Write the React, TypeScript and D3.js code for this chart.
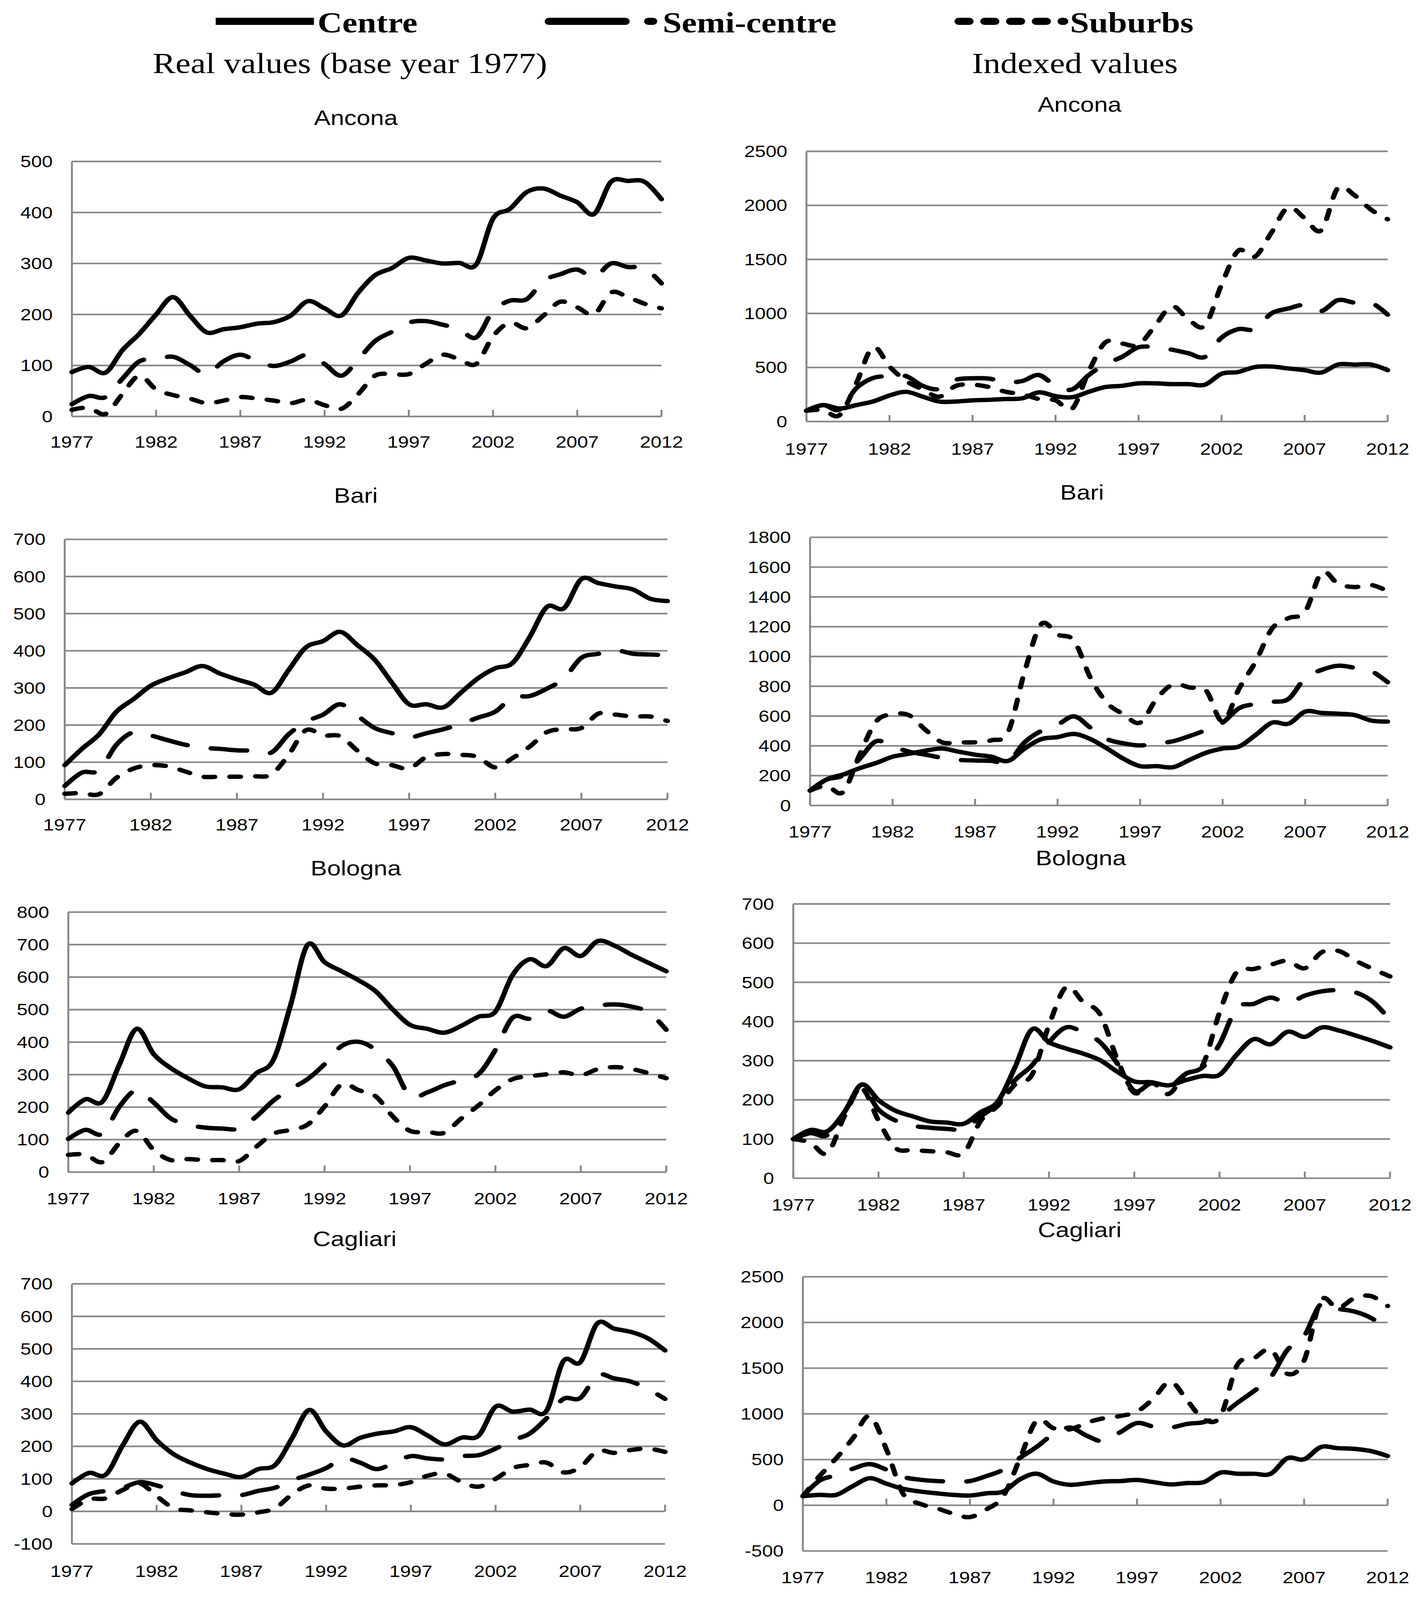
import React from 'react';
import * as d3 from 'd3';

// categories
const years = [
  1977, 1978, 1979, 1980, 1981, 1982, 1983, 1984, 1985, 1986, 1987, 1988, 1989, 1990, 1991, 1992, 1993, 1994,
  1995, 1996, 1997, 1998, 1999, 2000, 2001, 2002, 2003, 2004, 2005, 2006, 2007, 2008, 2009, 2010, 2011, 2012,
];
const xTickYears = [1977, 1982, 1987, 1992, 1997, 2002, 2007, 2012];
const seriesNames = ['Centre', 'Semi-centre', 'Suburbs'];

// Ancona
const anconaRealCentre = [87, 97, 86, 130, 162, 200, 234, 198, 165, 171, 175, 182, 185, 198, 226, 212, 198, 243, 277, 291, 311, 306, 300, 301, 298, 388, 407, 440, 447, 433, 420, 397, 460, 462, 460, 426];
const anconaRealSemi = [24, 40, 38, 74, 108, 112, 117, 101, 83, 108, 121, 108, 99, 108, 121, 103, 80, 112, 148, 166, 184, 187, 180, 171, 155, 207, 227, 230, 266, 279, 288, 273, 300, 293, 291, 261];
const anconaRealSuburbs = [13, 17, 5, 44, 80, 53, 42, 35, 26, 31, 38, 35, 31, 26, 33, 22, 15, 44, 80, 83, 83, 103, 121, 112, 103, 157, 184, 173, 198, 225, 214, 200, 243, 234, 221, 212];
const anconaIdxCentre = [100, 152, 120, 152, 185, 241, 275, 230, 185, 185, 196, 201, 208, 215, 270, 235, 225, 275, 319, 330, 353, 353, 346, 346, 341, 442, 458, 504, 509, 491, 475, 453, 527, 527, 527, 475];
const anconaIdxSemi = [100, 152, 110, 308, 402, 420, 420, 330, 300, 386, 400, 397, 364, 375, 430, 330, 297, 430, 531, 598, 687, 687, 665, 632, 598, 777, 855, 855, 1000, 1045, 1078, 1022, 1123, 1100, 1100, 989];
const anconaIdxSuburbs = [100, 107, 60, 353, 687, 509, 375, 297, 230, 330, 341, 319, 275, 252, 208, 196, 118, 464, 732, 721, 710, 888, 1067, 944, 888, 1268, 1580, 1525, 1748, 1982, 1882, 1770, 2161, 2094, 1960, 1871];

// Bari
const bariRealCentre = [92, 136, 175, 236, 270, 306, 326, 342, 359, 339, 323, 309, 287, 348, 409, 426, 451, 415, 376, 314, 256, 256, 248, 287, 326, 353, 367, 437, 518, 515, 593, 582, 573, 565, 540, 534];
const bariRealSemi = [36, 72, 78, 147, 181, 172, 159, 147, 139, 136, 132, 131, 126, 175, 209, 228, 256, 225, 192, 178, 167, 178, 189, 203, 220, 236, 275, 278, 298, 326, 381, 392, 401, 392, 390, 388];
const bariRealSuburbs = [15, 17, 14, 58, 83, 92, 89, 75, 61, 61, 61, 62, 67, 120, 186, 172, 170, 131, 97, 92, 83, 114, 122, 120, 114, 86, 111, 142, 181, 189, 192, 231, 228, 223, 223, 211];
const bariIdxCentre = [100, 174, 208, 250, 285, 327, 347, 368, 382, 361, 341, 327, 299, 382, 445, 459, 480, 445, 382, 313, 264, 264, 257, 306, 354, 382, 396, 473, 556, 549, 630, 621, 616, 607, 570, 563];
const bariIdxSemi = [100, 174, 202, 313, 431, 396, 361, 341, 320, 306, 302, 299, 292, 424, 500, 542, 598, 521, 445, 417, 403, 417, 431, 466, 507, 556, 653, 681, 695, 716, 855, 910, 938, 924, 903, 827];
const bariIdxSuburbs = [100, 132, 90, 340, 563, 612, 605, 507, 424, 424, 424, 438, 493, 897, 1216, 1147, 1105, 855, 688, 612, 556, 716, 813, 792, 771, 563, 785, 966, 1188, 1258, 1300, 1564, 1487, 1466, 1480, 1439];

// Bologna
const bolognaRealCentre = [183, 224, 217, 332, 441, 363, 320, 289, 264, 261, 255, 304, 345, 512, 699, 646, 618, 590, 556, 500, 453, 441, 429, 450, 478, 494, 606, 655, 634, 689, 665, 711, 696, 668, 643, 618];
const bolognaRealSemi = [102, 130, 118, 202, 252, 214, 165, 146, 137, 134, 134, 171, 220, 255, 286, 332, 388, 401, 376, 326, 233, 245, 267, 283, 301, 376, 475, 472, 497, 478, 503, 512, 516, 509, 491, 438];
const bolognaRealSuburbs = [53, 54, 31, 90, 127, 68, 37, 40, 37, 37, 34, 78, 118, 130, 146, 202, 270, 252, 233, 171, 127, 124, 121, 165, 205, 252, 286, 295, 301, 307, 298, 317, 323, 317, 304, 289];
const bolognaIdxCentre = [100, 123, 120, 169, 239, 199, 172, 158, 145, 142, 139, 169, 196, 283, 380, 347, 331, 318, 301, 272, 247, 245, 237, 250, 261, 264, 315, 355, 342, 374, 361, 385, 377, 364, 350, 334];
const bolognaIdxSemi = [100, 115, 110, 169, 231, 175, 147, 134, 129, 126, 126, 158, 191, 250, 288, 347, 385, 372, 347, 293, 223, 242, 231, 266, 283, 342, 434, 445, 461, 447, 466, 477, 480, 474, 450, 404];
const bolognaIdxSuburbs = [100, 91, 64, 158, 229, 147, 77, 72, 69, 66, 64, 147, 185, 239, 264, 391, 488, 450, 418, 304, 218, 245, 215, 266, 288, 423, 526, 534, 545, 555, 536, 577, 580, 555, 534, 515];

// Cagliari
const cagliariRealCentre = [86, 118, 113, 203, 276, 219, 176, 150, 130, 116, 106, 130, 143, 226, 312, 246, 203, 226, 239, 246, 259, 233, 206, 227, 233, 322, 307, 313, 309, 462, 459, 578, 562, 552, 532, 495];
const cagliariRealSemi = [20, 53, 63, 73, 90, 80, 63, 50, 48, 50, 50, 63, 73, 96, 113, 133, 163, 150, 130, 150, 170, 163, 160, 170, 173, 193, 219, 239, 286, 346, 349, 419, 409, 399, 376, 346];
const cagliariRealSuburbs = [7, 37, 40, 66, 86, 47, 10, 3, -3, -8, -10, -3, 10, 53, 80, 70, 70, 76, 80, 81, 90, 110, 116, 90, 76, 100, 133, 143, 150, 120, 136, 186, 180, 189, 193, 183];
const cagliariIdxCentre = [100, 114, 114, 211, 296, 236, 180, 151, 131, 114, 107, 131, 151, 284, 345, 260, 224, 241, 260, 265, 277, 253, 228, 243, 253, 357, 345, 345, 345, 515, 503, 637, 625, 617, 593, 539];
const cagliariIdxSemi = [100, 270, 330, 400, 450, 390, 310, 280, 265, 260, 265, 320, 390, 520, 640, 780, 850, 760, 700, 800, 900, 860, 850, 890, 910, 980, 1120, 1250, 1400, 1700, 1850, 2200, 2150, 2120, 2050, 1920];
const cagliariIdxSuburbs = [100, 320, 515, 734, 977, 612, 126, 17, -32, -92, -129, -44, 102, 515, 928, 843, 831, 904, 952, 977, 1025, 1171, 1353, 1147, 940, 977, 1535, 1608, 1705, 1438, 1584, 2240, 2155, 2265, 2289, 2180];

// y tick labels
const ticks500 = [0, 100, 200, 300, 400, 500];
const ticks700 = [0, 100, 200, 300, 400, 500, 600, 700];
const ticks800 = [0, 100, 200, 300, 400, 500, 600, 700, 800];
const ticksNeg700 = [-100, 0, 100, 200, 300, 400, 500, 600, 700];
const ticks2500 = [0, 500, 1000, 1500, 2000, 2500];
const ticks1800 = [0, 200, 400, 600, 800, 1000, 1200, 1400, 1600, 1800];
const ticksNeg2500 = [-500, 0, 500, 1000, 1500, 2000, 2500];

// drawing space matches the reference picture's proportions; it is stretched to fill the window
const W = 1190;
const H = (W * 4833) / 3651;
const GRID = '#878787';
const FONT = '"Liberation Sans", Arial, sans-serif';
const SERIF = '"Liberation Serif", "Times New Roman", serif';
const LINE_W = 4.3;
const DASHES = [null, '30 20', '9 12.5'];

const panels = [
  { title: 'Ancona', tx: 297, ty: 123, left: 60, right: 552, top: 159, bottom: 410, labelY: 435, ticks: ticks500, series: [anconaRealCentre, anconaRealSemi, anconaRealSuburbs] },
  { title: 'Ancona', tx: 901, ty: 110, left: 673, right: 1158, top: 149, bottom: 415, labelY: 442, ticks: ticks2500, series: [anconaIdxCentre, anconaIdxSemi, anconaIdxSuburbs] },
  { title: 'Bari', tx: 297, ty: 495, left: 54, right: 557, top: 531, bottom: 787, labelY: 812, ticks: ticks700, series: [bariRealCentre, bariRealSemi, bariRealSuburbs] },
  { title: 'Bari', tx: 903, ty: 492, left: 676, right: 1158, top: 529, bottom: 793, labelY: 819, ticks: ticks1800, series: [bariIdxCentre, bariIdxSemi, bariIdxSuburbs] },
  { title: 'Bologna', tx: 297, ty: 862, left: 57, right: 556, top: 898, bottom: 1154, labelY: 1180, ticks: ticks800, series: [bolognaRealCentre, bolognaRealSemi, bolognaRealSuburbs] },
  { title: 'Bologna', tx: 902, ty: 852, left: 662, right: 1160, top: 890, bottom: 1160, labelY: 1186, ticks: ticks700, series: [bolognaIdxCentre, bolognaIdxSemi, bolognaIdxSuburbs] },
  { title: 'Cagliari', tx: 296, ty: 1227, left: 60, right: 555, top: 1264, bottom: 1520, labelY: 1547, ticks: ticksNeg700, series: [cagliariRealCentre, cagliariRealSemi, cagliariRealSuburbs] },
  { title: 'Cagliari', tx: 901, ty: 1218, left: 670, right: 1158, top: 1257, bottom: 1527, labelY: 1553, ticks: ticksNeg2500, series: [cagliariIdxCentre, cagliariIdxSemi, cagliariIdxSuburbs] },
];

function Panel({ p }: { p: (typeof panels)[number] }) {
  const x = d3.scaleLinear().domain([years[0], years[years.length - 1]]).range([p.left, p.right]);
  const y = d3
    .scaleLinear()
    .domain([p.ticks[0], p.ticks[p.ticks.length - 1]])
    .range([p.bottom, p.top]);
  const line = d3
    .line<number>()
    .x((_, i) => x(years[i]))
    .y((d) => y(d))
    .curve(d3.curveCardinal.tension(0));

  return (
    <g>
      <text x={p.tx} y={p.ty} textAnchor="middle" fontFamily={FONT} fontSize={20.6}>
        {p.title}
      </text>
      {/* grid lines and y labels */}
      {p.ticks.map((t) => (
        <g key={t}>
          {t !== 0 && <line x1={p.left} x2={p.right} y1={y(t)} y2={y(t)} stroke={GRID} strokeWidth={1.6} />}
          <text x={p.left - 16} y={y(t)} dy="0.35em" textAnchor="end" fontFamily={FONT} fontSize={16.2}>
            {t}
          </text>
        </g>
      ))}
      {/* axes */}
      <line x1={p.left} x2={p.left} y1={p.top} y2={p.bottom} stroke={GRID} strokeWidth={1.6} />
      <line x1={p.left} x2={p.right} y1={y(0)} y2={y(0)} stroke={GRID} strokeWidth={1.6} />
      {xTickYears.map((yr) => (
        <g key={yr}>
          <line x1={x(yr)} x2={x(yr)} y1={y(0)} y2={y(0) - 6.5} stroke={GRID} strokeWidth={1.6} />
          <text x={x(yr)} y={p.labelY} dy="0.35em" textAnchor="middle" fontFamily={FONT} fontSize={16.2}>
            {yr}
          </text>
        </g>
      ))}
      {/* series */}
      {p.series.map((s, i) => (
        <path
          key={seriesNames[i]}
          d={line(s) ?? ''}
          fill="none"
          stroke="#000"
          strokeWidth={LINE_W}
          strokeLinejoin="round"
          strokeLinecap="round"
          strokeDasharray={DASHES[i] ?? undefined}
        />
      ))}
    </g>
  );
}

function Legend() {
  const items = [
    { x1: 180, x2: 262, tx: 265, dash: null },
    { x1: 458, x2: 545, tx: 553, dash: '64 19' },
    { x1: 800, x2: 888, tx: 893, dash: '9 12.5' },
  ];
  return (
    <g>
      {items.map((it, i) => (
        <g key={seriesNames[i]}>
          <line
            x1={it.x1}
            x2={it.x2}
            y1={21}
            y2={21}
            stroke="#000"
            strokeWidth={7}
            strokeLinecap={it.dash ? 'round' : 'butt'}
            strokeDasharray={it.dash ?? undefined}
          />
          <text x={it.tx} y={32} fontFamily={SERIF} fontWeight="bold" fontSize={28.5}>
            {seriesNames[i]}
          </text>
        </g>
      ))}
      <text x={292} y={72} textAnchor="middle" fontFamily={SERIF} fontSize={28.5}>
        Real values (base year 1977)
      </text>
      <text x={897} y={72} textAnchor="middle" fontFamily={SERIF} fontSize={28.5}>
        Indexed values
      </text>
    </g>
  );
}

export default function App() {
  return (
    <svg
      viewBox={`0 0 ${W} ${H}`}
      preserveAspectRatio="none"
      style={{ position: 'absolute', left: 0, top: 0, width: '100vw', height: '100vh', display: 'block', background: '#fff' }}
    >
      <rect x={0} y={0} width={W} height={H} fill="#fff" />
      <Legend />
      {panels.map((p, i) => (
        <Panel key={i} p={p} />
      ))}
    </svg>
  );
}
